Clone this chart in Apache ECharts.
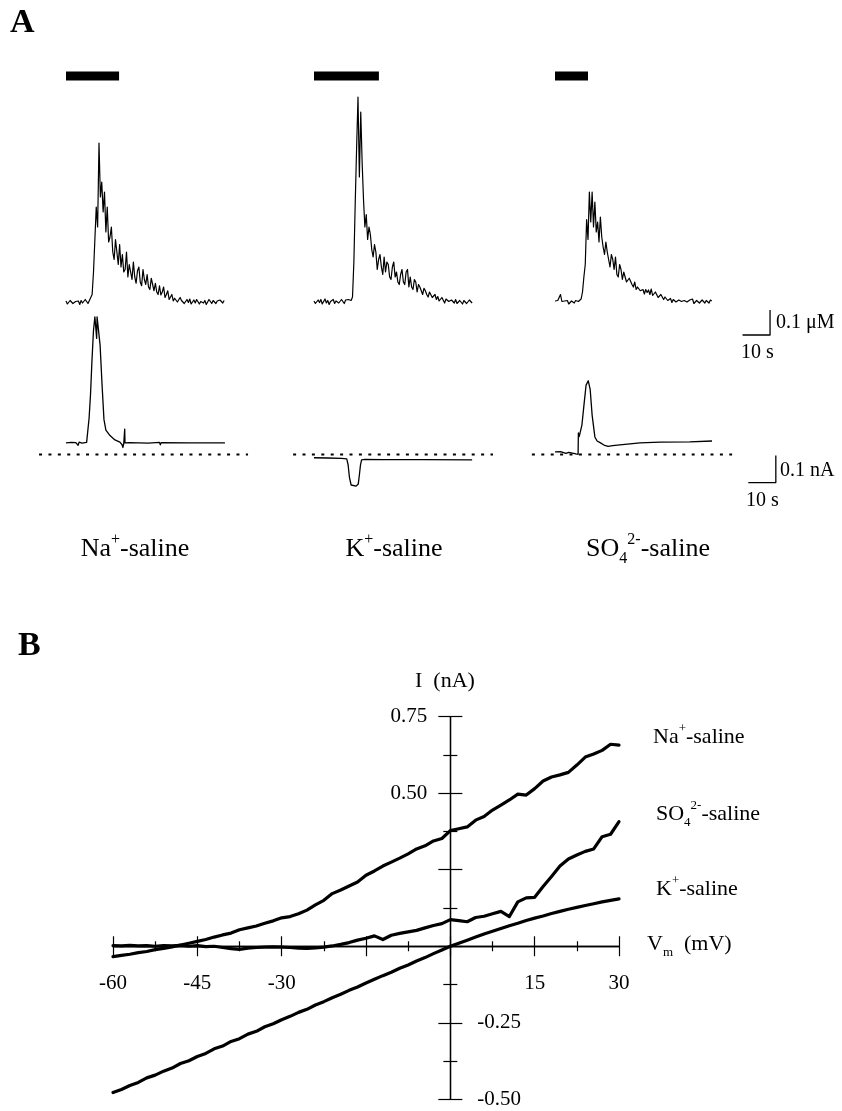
<!DOCTYPE html>
<html><head><meta charset="utf-8">
<script src="https://cdn.jsdelivr.net/npm/echarts@6/dist/echarts.min.js"></script>
<style>html,body{margin:0;padding:0;background:#fff}#c{width:842px;height:1111px}</style>
</head><body><div id="c"></div>
<script>
// ===================== DATA =====================
// Panel A: [Ca2+]i traces (µM above baseline), sampled every caDt seconds
const caDt = 0.5;
const naCa = [
0.004,-0.008,-0.002,0.006,0.010,-0.006,-0.012,0.002,0.008,0.004,
-0.010,0.006,-0.004,-0.008,0.010,0.002,-0.006,0.006,0.000,0.030,
0.120,0.250,0.380,0.300,0.636,0.420,0.480,0.360,0.440,0.280,
0.380,0.240,0.260,0.300,0.200,0.170,0.250,0.200,0.150,0.230,
0.140,0.190,0.120,0.130,0.200,0.100,0.150,0.120,0.090,0.160,
0.100,0.075,0.125,0.140,0.080,0.065,0.130,0.090,0.070,0.110,
0.060,0.050,0.095,0.070,0.045,0.075,0.040,0.030,0.065,0.028,
0.040,0.060,0.018,0.030,0.045,0.010,0.020,0.030,0.004,0.015,
0.020,0.000,-0.004,0.018,0.006,0.012,-0.006,0.002,0.010,-0.002,
0.012,-0.008,0.000,0.008,-0.004,0.010,0.004,-0.008,0.002,0.008,
-0.004,0.006,-0.010,0.000,0.010,0.004,-0.006,0.006,0.012,-0.006,
0.004,-0.002,0.008,0.010,-0.004,0.006];
const kCa = [
0.004,-0.006,0.002,0.008,-0.002,0.010,-0.008,0.000,0.012,-0.004,
0.006,-0.010,0.002,0.008,0.010,-0.006,0.004,0.012,-0.004,0.000,
0.010,0.004,-0.006,0.008,0.002,0.010,0.014,0.006,0.020,0.160,
0.400,0.620,0.820,0.500,0.760,0.560,0.410,0.300,0.350,0.250,
0.300,0.270,0.210,0.180,0.230,0.200,0.130,0.170,0.190,0.140,
0.110,0.180,0.120,0.160,0.150,0.100,0.090,0.140,0.160,0.100,
0.120,0.080,0.070,0.110,0.130,0.080,0.070,0.120,0.130,0.060,
0.100,0.060,0.050,0.090,0.080,0.040,0.070,0.060,0.045,0.030,
0.055,0.045,0.030,0.020,0.040,0.035,0.018,0.012,0.030,0.010,
0.022,0.004,0.002,0.018,0.014,-0.004,0.012,0.010,0.002,-0.006,
0.008,0.004,-0.004,0.010,-0.006,0.000,0.006,0.010,-0.008,0.006,
0.002,-0.006,-0.002,0.008,0.006,-0.004];
const so4Ca = [
0.004,-0.004,0.006,0.000,0.030,0.002,-0.006,0.004,-0.002,0.006,
-0.008,0.000,0.004,0.008,-0.004,0.006,0.010,0.002,0.004,0.012,
0.040,0.100,0.150,0.330,0.250,0.440,0.320,0.440,0.300,0.400,
0.280,0.320,0.240,0.340,0.260,0.220,0.190,0.240,0.200,0.170,
0.140,0.190,0.170,0.130,0.180,0.110,0.100,0.150,0.130,0.090,
0.120,0.100,0.080,0.075,0.095,0.100,0.070,0.060,0.080,0.050,
0.060,0.055,0.045,0.040,0.050,0.032,0.050,0.038,0.048,0.030,
0.052,0.026,0.022,0.040,0.036,0.018,0.014,0.030,0.026,0.010,
0.020,0.016,0.006,0.002,0.014,-0.002,0.010,0.012,0.000,-0.004,
0.008,0.012,0.002,-0.006,0.006,0.010,0.000,-0.004,0.008,0.002,
0.012,-0.006,0.000,0.006,0.010,-0.004,0.002,0.008,0.012,-0.004,
0.006,0.000,-0.004,0.008,0.004];

// Panel A: membrane currents, [time s, current nA]
const naCur = [[0,0.043],[2,0.045],[3.6,0.044],[4.4,0.034],[4.8,0.046],[5.8,0.042],[7.5,0.045],[8.0,0.050],
[8.4,0.135],[8.9,0.22],[9.45,0.35],[10.0,0.46],[10.5,0.51],[11.0,0.505],[11.15,0.43],[11.3,0.51],[11.7,0.505],
[12.4,0.405],[13.1,0.26],[13.8,0.13],[14.5,0.09],[16,0.07],[17.8,0.054],[19.6,0.046],[20.4,0.036],[20.7,0.026],
[21.0,0.040],[21.3,0.043],[21.35,0.094],[21.45,0.043],[23,0.044],[30,0.042],[34,0.045],[34.3,0.036],[34.6,0.044],
[45,0.043],[57.8,0.043]];
const kCur = [[0,-0.012],[5,-0.013],[10,-0.014],[11.9,-0.016],[12.4,-0.038],[12.9,-0.086],[13.5,-0.113],[14.2,-0.116],
[15.3,-0.117],[16.1,-0.109],[16.5,-0.076],[16.9,-0.039],[17.3,-0.020],[18.5,-0.018],[25,-0.019],[40,-0.019],[57.5,-0.020]];
const so4Cur = [[0,0.010],[2,0.011],[4,0.004],[5,0.008],[7.6,0.002],[8.4,0.001],[8.5,0.080],[8.8,0.066],[9.1,0.066],
[9.8,0.11],[10.5,0.18],[11.3,0.257],[12.1,0.273],[12.8,0.24],[13.5,0.146],[14.5,0.065],[15.3,0.05],[16.4,0.044],
[17.8,0.035],[19.3,0.030],[21,0.033],[23.6,0.036],[30.9,0.043],[38.2,0.046],[49,0.047],[57.1,0.050]];

// Stimulus (solution application) periods, s
const stimNa = [0, 19.3];
const stimK = [0, 23.6];
const stimSO4 = [0, 12];
// Zero-current reference line extents, s
const zeroNa = [-9.8, 66.2];
const zeroK = [-7.6, 65.1];
const zeroSO4 = [-8.4, 64.4];
// Scale bars: 10 s x 0.1 µM and 10 s x 0.1 nA
const scaleT = 10, scaleCa = 0.1, scaleI = 0.1;

// Panel B: I–V relations
const vm = [-60,-58.5,-57,-55.5,-54,-52.5,-51,-49.5,-48,-46.5,-45,-43.5,-42,-40.5,-39,-37.5,-36,-34.5,-33,-31.5,
-30,-28.5,-27,-25.5,-24,-22.5,-21,-19.5,-18,-16.5,-15,-13.5,-12,-10.5,-9,-7.5,-6,-4.5,-3,-1.5,
0,1.5,3,4.5,6,7.5,9,10.5,12,13.5,15,16.5,18,19.5,21,22.5,24,25.5,27,28.5,30];
const iNa = [-0.034,-0.030,-0.026,-0.021,-0.017,-0.011,-0.007,-0.002,0.004,0.010,0.016,0.022,0.030,0.037,0.043,0.054,0.060,0.066,0.075,0.083,
0.093,0.097,0.106,0.118,0.135,0.150,0.172,0.184,0.197,0.210,0.232,0.246,0.262,0.275,0.288,0.302,0.318,0.328,0.344,0.352,
0.378,0.384,0.390,0.412,0.424,0.445,0.461,0.478,0.497,0.494,0.515,0.540,0.553,0.560,0.568,0.592,0.618,0.628,0.640,0.660,0.657];
const iSO4 = [0.002,0.001,0.003,0.001,0.002,0.000,0.002,0.001,0.003,0.000,0.002,-0.001,0.000,-0.004,-0.008,-0.010,-0.006,-0.004,-0.003,-0.002,
-0.003,-0.004,-0.006,-0.007,-0.005,-0.003,0.001,0.006,0.012,0.020,0.026,0.034,0.022,0.036,0.042,0.047,0.052,0.060,0.068,0.074,
0.087,0.084,0.080,0.094,0.098,0.106,0.114,0.097,0.145,0.158,0.160,0.195,0.228,0.262,0.285,0.298,0.310,0.318,0.358,0.366,0.407];
const iK = [-0.478,-0.468,-0.455,-0.445,-0.430,-0.421,-0.408,-0.398,-0.383,-0.374,-0.360,-0.350,-0.335,-0.326,-0.311,-0.302,-0.287,-0.278,-0.263,-0.253,
-0.240,-0.229,-0.216,-0.206,-0.192,-0.181,-0.168,-0.157,-0.144,-0.133,-0.120,-0.108,-0.096,-0.085,-0.072,-0.061,-0.048,-0.037,-0.024,-0.012,
0.000,0.010,0.020,0.030,0.040,0.049,0.058,0.067,0.075,0.084,0.092,0.099,0.107,0.114,0.121,0.127,0.133,0.139,0.145,0.150,0.155];
const vmLabels = ['-60','-45','-30','15','30'];
const iLabelsLeft = ['0.75','0.50'];
const iLabelsRight = ['-0.25','-0.50'];

// ===================== LAYOUT =====================
const SERIF = "'Liberation Serif','Times New Roman',serif";
const PX_PER_S = 2.75, T_MIN = -10, T_MAX = 82;
const colLeft = [38.5, 286.5, 527.5];
const gridW = (T_MAX - T_MIN) * PX_PER_S;
const caBox = {top: 52, height: 300, min: -0.2, max: 1.0};
const curBox = {top: 292.5, height: 243, min: -0.3, max: 0.6};
const stimLevel = 0.904;
const caBarAt = [68.2, -0.132];
const curBarAt = [70.3, -0.104];

const grids = [], xAxes = [], yAxes = [], series = [];
const cols = [
  {ca: naCa, cur: naCur, stim: stimNa, zero: zeroNa},
  {ca: kCa, cur: kCur, stim: stimK, zero: zeroK},
  {ca: so4Ca, cur: so4Cur, stim: stimSO4, zero: zeroSO4}
];
const black = '#000';
function line(xi, data, width, extra) {
  return Object.assign({type: 'line', xAxisIndex: xi, yAxisIndex: xi, data: data, showSymbol: false,
    symbol: 'none', silent: true, animation: false,
    lineStyle: {color: black, width: width, cap: 'butt', join: 'round'}}, extra || {});
}
cols.forEach((c, k) => {
  const gCa = grids.length;
  grids.push({left: colLeft[k], top: caBox.top, width: gridW, height: caBox.height, outerBoundsMode: 'none'});
  xAxes.push({type: 'value', gridIndex: gCa, min: T_MIN, max: T_MAX, show: false});
  yAxes.push({type: 'value', gridIndex: gCa, min: caBox.min, max: caBox.max, show: false});
  const gI = grids.length;
  grids.push({left: colLeft[k], top: curBox.top, width: gridW, height: curBox.height, outerBoundsMode: 'none'});
  xAxes.push({type: 'value', gridIndex: gI, min: T_MIN, max: T_MAX, show: false});
  yAxes.push({type: 'value', gridIndex: gI, min: curBox.min, max: curBox.max, show: false});

  series.push(line(gCa, c.ca.map((v, i) => [i * caDt, v]), 1.2));
  series.push(line(gCa, [[c.stim[0], stimLevel], [c.stim[1], stimLevel]], 9));
  series.push(line(gI, c.cur, 1.3));
  const zl = line(gI, [[c.zero[0], 0], [c.zero[1], 0]], 2);
  zl.lineStyle.type = [3, 6.4];
  series.push(zl);
  if (k === 2) {
    series.push(line(gCa, [[caBarAt[0], caBarAt[1]], [caBarAt[0] + scaleT, caBarAt[1]], [caBarAt[0] + scaleT, caBarAt[1] + scaleCa]], 1.3));
    series.push(line(gI, [[curBarAt[0], curBarAt[1]], [curBarAt[0] + scaleT, curBarAt[1]], [curBarAt[0] + scaleT, curBarAt[1] + scaleI]], 1.3));
  }
});

// Panel B grid
const gB = grids.length;
grids.push({left: 113, top: 716.7, width: 506, height: 382.6, outerBoundsMode: 'none'});
const axLine = {color: black, width: 1.3};
const tickStyle = {color: black, width: 1.2};
function xAx(pos, showLabel) {
  return {type: 'value', gridIndex: gB, min: -60, max: 30, interval: 15, position: pos, offset: 0,
    axisLine: {onZero: false, lineStyle: axLine},
    axisTick: {show: true, length: 10, lineStyle: tickStyle},
    minorTick: {show: true, splitNumber: 2, length: 5, lineStyle: tickStyle},
    splitLine: {show: false}, minorSplitLine: {show: false},
    axisLabel: {show: showLabel, margin: 27, fontSize: 21, fontFamily: SERIF, color: black,
      showMinLabel: true, showMaxLabel: true,
      formatter: v => vmLabels.indexOf(String(v)) >= 0 ? String(v) : ''}};
}
function yAx(pos, labels, margin) {
  return {type: 'value', gridIndex: gB, min: -0.5, max: 0.75, interval: 0.25, position: pos, offset: 0,
    axisLine: {onZero: false, lineStyle: axLine},
    axisTick: {show: true, length: 12, lineStyle: tickStyle},
    minorTick: {show: true, splitNumber: 2, length: 7, lineStyle: tickStyle},
    splitLine: {show: false}, minorSplitLine: {show: false},
    axisLabel: {show: true, margin: margin, fontSize: 21, fontFamily: SERIF, color: black,
      showMinLabel: true, showMaxLabel: true,
      formatter: v => labels.indexOf(v.toFixed(2)) >= 0 ? v.toFixed(2) : ''}};
}
xAxes.push(xAx('bottom', true));
xAxes.push(xAx('top', false));
yAxes.push(yAx('left', iLabelsLeft, 23));
yAxes.push(yAx('right', iLabelsRight, 27));
[iNa, iSO4, iK].forEach(arr => {
  const s = line(6, vm.map((v, i) => [v, arr[i]]), 3.2, {clip: false});
  s.lineStyle.cap = 'round';
  series.push(s);
});

// ===================== TEXT =====================
const rich = (size) => ({
  p: {fontSize: Math.round(size * 0.6), fontFamily: SERIF, lineHeight: Math.round(size * 0.6), verticalAlign: 'top', fill: black},
  b: {fontSize: Math.round(size * 0.6), fontFamily: SERIF, lineHeight: Math.round(size * 0.6), verticalAlign: 'bottom', fill: black}
});
function txt(x, y, text, size, opts) {
  opts = opts || {};
  return {type: 'text', x: x, y: y, silent: true,
    style: {text: text, fontSize: size, fontFamily: SERIF, fontWeight: opts.bold ? 'bold' : 'normal',
      fill: black, lineHeight: Math.round(size * 1.35), rich: rich(size),
      textAlign: opts.align || 'left', align: opts.align || 'left',
      textVerticalAlign: 'middle', verticalAlign: 'middle'}};
}
const graphic = [
  txt(10, 23.5, 'A', 34, {bold: true}),
  txt(18, 646.5, 'B', 34, {bold: true}),
  txt(135, 549, 'Na{p|+}-saline', 26, {align: 'center'}),
  txt(394, 549, 'K{p|+}-saline', 26, {align: 'center'}),
  txt(648, 549, 'SO{b|4}{p|2-}-saline', 26, {align: 'center'}),
  txt(776, 323, '0.1 \u03bcM', 20),
  txt(741, 353, '10 s', 20),
  txt(780, 471, '0.1 nA', 20),
  txt(746, 501, '10 s', 20),
  txt(415, 681, 'I  (nA)', 22),
  txt(653, 737.5, 'Na{p|+}-saline', 22),
  txt(656, 814.5, 'SO{b|4}{p|2-}-saline', 22),
  txt(656, 889.5, 'K{p|+}-saline', 22),
  txt(647, 944, 'V{b|m}  (mV)', 22)
];

const chart = echarts.init(document.getElementById('c'), null, {renderer: 'canvas'});
chart.setOption({
  backgroundColor: '#fff',
  animation: false,
  grid: grids, xAxis: xAxes, yAxis: yAxes, series: series, graphic: graphic
});
// Place the panel-B axes so they cross at the origin (0 mV, 0 nA), using the grid's own scales.
const origin = chart.convertToPixel({gridIndex: gB}, [0, 0]);
const lo = chart.convertToPixel({gridIndex: gB}, [-60, -0.5]);
const hi = chart.convertToPixel({gridIndex: gB}, [30, 0.75]);
const xPatch = xAxes.map(() => ({}));
const yPatch = yAxes.map(() => ({}));
xPatch[6] = {offset: origin[1] - lo[1]};
xPatch[7] = {offset: hi[1] - origin[1]};
yPatch[6] = {offset: lo[0] - origin[0]};
yPatch[7] = {offset: origin[0] - hi[0]};
chart.setOption({xAxis: xPatch, yAxis: yPatch});
</script></body></html>
